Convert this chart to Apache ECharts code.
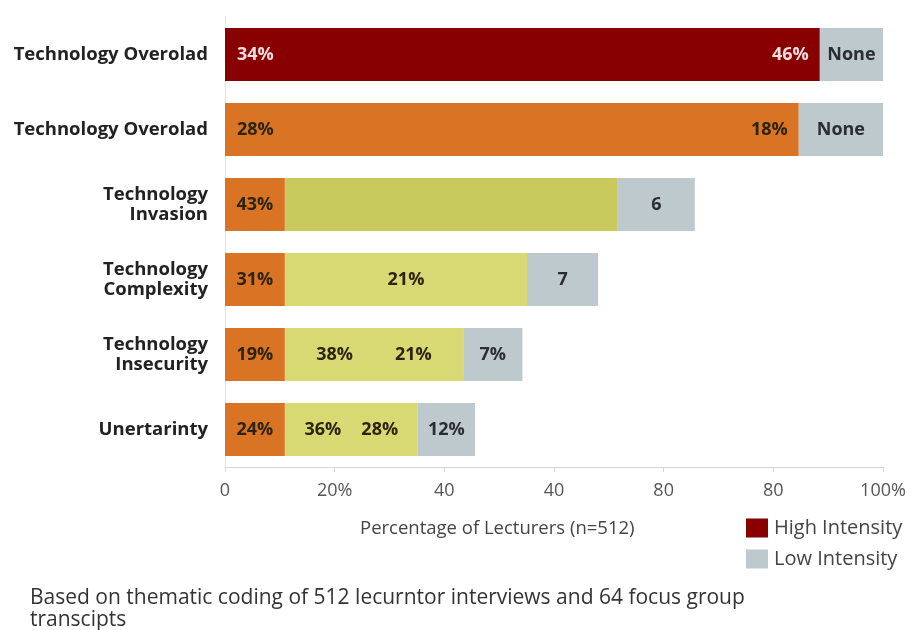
<!DOCTYPE html>
<html>
<head>
<meta charset="utf-8">
<script src="https://cdn.jsdelivr.net/npm/echarts@6/dist/echarts.min.js"></script>
<style>html,body{margin:0;padding:0;background:#fff}#c{width:920px;height:630px}</style>
</head>
<body>
<div id="c"></div>
<script>
const categories = ['Technology Overolad', 'Technology Overolad', 'Technology\nInvasion', 'Technology\nComplexity', 'Technology\nInsecurity', 'Unertarinty'];
const xTickLabels = ['0', '20%', '40', '40', '80', '80', '100%'];
const high = [90.4, 87.2, 9.1, 9.1, 9.1, 9.1];
const highStartLabels = ['34%', '28%', '43%', '31%', '19%', '24%'];
const highEndLabels = ['46%', '18%', '', '', '', ''];
const moderate = [0, 0, 50.6, 36.8, 27.1, 20.2];
const moderateLabels = [[], [], [], ['21%'], ['38%', '21%'], ['36%', '28%']];
const low = [9.6, 13.2, 11.7, 10.8, 9.0, 8.7];
const lowLabels = ['None', 'None', '6', '7', '7%', '12%'];

const RED = '#880000', ORANGE = '#DA7425', GREEN1 = '#C9CA5E', GREEN2 = '#D9D974', GREY = '#BEC9CD';
const FONT = '"Open Sans", sans-serif';
const DARK = '#2b2410';
const lbl = { show: true, fontFamily: FONT, fontWeight: 'bold', fontSize: 18, color: DARK };
const gapWidth = [0, 0, 0, 0, 42, 20];

const chart = echarts.init(document.getElementById('c'), null, { renderer: 'canvas' });
chart.setOption({
  animation: false,
  backgroundColor: '#fff',
  grid: { left: 225, right: 37, top: 17, bottom: 163 },
  legend: {
    data: ['High Intensity', 'Low Intensity'],
    orient: 'vertical',
    left: 741, top: 513,
    itemWidth: 22, itemHeight: 19, itemGap: 11,
    icon: 'rect',
    textStyle: { fontFamily: FONT, fontSize: 20, color: '#444', padding: [0, 0, 0, 1] }
  },
  xAxis: {
    type: 'value', min: 0, max: 100, interval: 100 / 6,
    axisLine: { show: true, lineStyle: { color: '#d4d4d4' } },
    axisTick: { show: true, length: 5, lineStyle: { color: '#d4d4d4' } },
    splitLine: { show: false },
    axisLabel: {
      fontFamily: FONT, fontSize: 18, color: '#555', margin: 15,
      formatter: (v, i) => xTickLabels[i]
    }
  },
  yAxis: {
    type: 'category', data: categories, inverse: true,
    axisLine: { show: true, lineStyle: { color: '#e2e2e2' } },
    axisTick: { show: false },
    axisLabel: { fontFamily: FONT, fontWeight: 'bold', fontSize: 18.5, color: '#222', margin: 17, lineHeight: 20, align: 'right' }
  },
  series: [
    {
      name: 'High Intensity', type: 'bar', stack: 't', barWidth: 53,
      itemStyle: { color: RED },
      data: high.map((v, i) => ({
        value: v,
        itemStyle: { color: i === 0 ? RED : ORANGE },
        label: Object.assign({}, lbl, {
          formatter: highStartLabels[i],
          position: i < 2 ? 'insideLeft' : 'inside',
          distance: 12,
          color: i === 0 ? '#f6dede' : DARK
        })
      }))
    },
    {
      name: 'High end', type: 'bar', stack: 't', barWidth: 53,
      itemStyle: { color: 'transparent' },
      data: highEndLabels.map((t, i) => ({
        value: 0,
        label: Object.assign({}, lbl, {
          show: t !== '',
          formatter: t,
          position: 'left',
          distance: 11,
          color: i === 0 ? '#f6dede' : DARK
        })
      }))
    },
    {
      name: 'Moderate', type: 'bar', stack: 't', barWidth: 53,
      data: moderate.map((v, i) => ({
        value: v,
        itemStyle: { color: i === 2 ? GREEN1 : GREEN2 },
        label: Object.assign({}, lbl, {
          show: moderateLabels[i].length > 0,
          position: 'inside',
          formatter: moderateLabels[i].map(s => '{a|' + s + '}').join('{g|}'),
          rich: {
            a: { fontFamily: FONT, fontWeight: 'bold', fontSize: 18, color: DARK },
            g: { width: gapWidth[i] }
          }
        })
      }))
    },
    {
      name: 'Low Intensity', type: 'bar', stack: 't', barWidth: 53,
      itemStyle: { color: GREY },
      data: low.map((v, i) => ({
        value: v,
        label: Object.assign({}, lbl, { formatter: lowLabels[i], position: 'inside', color: '#2a2e33' })
      }))
    }
  ],
  graphic: [
    { type: 'text', x: 360, y: 529, style: { text: 'Percentage of Lecturers (n=512)', font: '18.5px ' + FONT, fill: '#444', verticalAlign: 'middle' } },
    { type: 'text', x: 30, y: 587, style: { text: 'Based on thematic coding of 512 lecurntor interviews and 64 focus group\ntranscipts', font: '21px ' + FONT, fill: '#333', lineHeight: 22, verticalAlign: 'top' } }
  ]
});
</script>
</body>
</html>
